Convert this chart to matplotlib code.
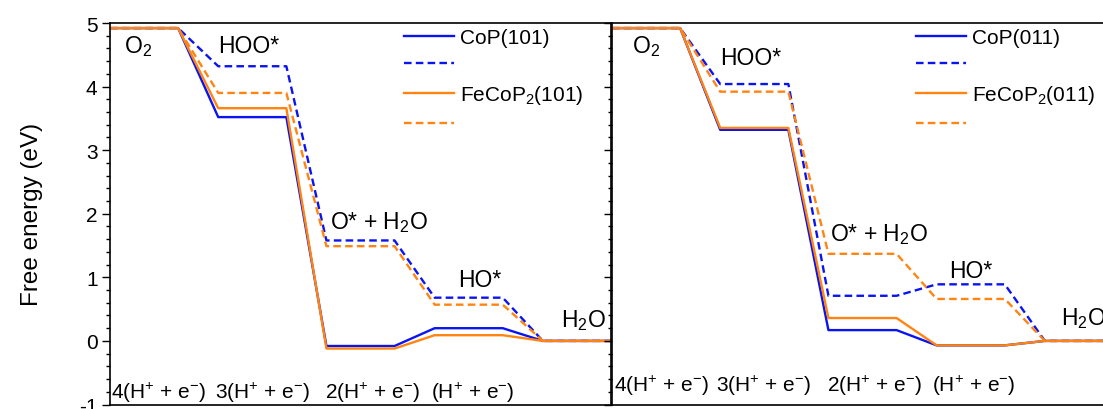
import numpy as np
import matplotlib.pyplot as plt
from matplotlib.ticker import MultipleLocator

plt.rcParams['font.family'] = ['Liberation Sans', 'DejaVu Sans']
plt.rcParams['mathtext.fontset'] = 'custom'
plt.rcParams['mathtext.rm'] = 'Liberation Sans'
plt.rcParams['mathtext.it'] = 'Liberation Sans:italic'
plt.rcParams['axes.unicode_minus'] = False

# free energy levels for the 5 steps: O2, HOO*, O*+H2O, HO*, H2O
cop101_u = [4.92, 3.52, -0.08, 0.20, 0.0]
cop101_eq = [4.92, 4.32, 1.58, 0.68, 0.0]
fecop101_u = [4.92, 3.66, -0.12, 0.09, 0.0]
fecop101_eq = [4.92, 3.90, 1.49, 0.57, 0.0]

cop011_u = [4.92, 3.32, 0.17, -0.07, 0.0]
cop011_eq = [4.92, 4.04, 0.71, 0.89, 0.0]
fecop011_u = [4.92, 3.35, 0.36, -0.07, 0.0]
fecop011_eq = [4.92, 3.92, 1.37, 0.66, 0.0]

step_labels = ['4(H$^{+}$ + e$^{-}$)', '3(H$^{+}$ + e$^{-}$)',
               '2(H$^{+}$ + e$^{-}$)', '(H$^{+}$ + e$^{-}$)']

BLUE = '#0a14f0'
ORANGE = '#ff8412'
LEVEL_W = 1.7
GAP = 1.0


def step_path(levels):
    xs, ys = [], []
    for i, v in enumerate(levels):
        x0 = i * (LEVEL_W + GAP)
        xs += [x0, x0 + LEVEL_W]
        ys += [v, v]
    return np.array(xs), np.array(ys)


def draw_panel(ax, series, names, texts, step_pos, legend_x, show_labels):
    for levels, color, ls in series:
        x, y = step_path(levels)
        if ls == '--':
            ax.plot(x, y, color=color, lw=1.7, ls=(0, (3.2, 1.8)))
        else:
            ax.plot(x, y, color=color, lw=1.7)
    ax.set_xlim(0, 4 * (LEVEL_W + GAP) + LEVEL_W)
    ax.set_ylim(-1, 5)
    ax.yaxis.set_major_locator(MultipleLocator(1))
    ax.yaxis.set_minor_locator(MultipleLocator(0.2))
    ax.tick_params(axis='y', which='major', direction='out', length=5.5, width=1,
                   labelsize=15, labelleft=show_labels)
    ax.tick_params(axis='y', which='minor', direction='out', length=3, width=1)
    ax.set_xticks([])
    for s in ax.spines.values():
        s.set_linewidth(1.2)
    for txt, x, y in texts:
        ax.text(x, y, txt, fontsize=16.5, ha='left', va='center')
    for lab, (x, y) in zip(step_labels, step_pos):
        ax.text(x, y, lab, fontsize=15, ha='left', va='center')
    ax.legend(names, loc='upper left', bbox_to_anchor=(legend_x, 0.99),
              frameon=False, fontsize=15, handlelength=2.4, handletextpad=0.3,
              labelspacing=0.42, borderpad=0.05, borderaxespad=0)


fig = plt.figure(figsize=(11.03, 4.10), dpi=100)
ax1 = fig.add_axes([110 / 1103, 4.5 / 410, 501 / 1103, 381.5 / 410])
ax2 = fig.add_axes([612 / 1103, 4.5 / 410, 501 / 1103, 381.5 / 410])

draw_panel(ax1,
           [(cop101_u, BLUE, '-'), (cop101_eq, BLUE, '--'),
            (fecop101_u, ORANGE, '-'), (fecop101_eq, ORANGE, '--')],
           ['CoP(101)', ' ', 'FeCoP$_{2}$(101)', ' '],
           [('O$_{2}$', 0.35, 4.64), ('HOO*', 2.7, 4.64), ('O* + H$_{2}$O', 5.5, 1.87),
            ('HO*', 8.68, 0.97), ('H$_{2}$O', 11.25, 0.33)],
           [(0.02, -0.8), (2.62, -0.8), (5.37, -0.8), (8.0, -0.8)],
           0.585, True)

draw_panel(ax2,
           [(cop011_u, BLUE, '-'), (cop011_eq, BLUE, '--'),
            (fecop011_u, ORANGE, '-'), (fecop011_eq, ORANGE, '--')],
           ['CoP(011)', ' ', 'FeCoP$_{2}$(011)', ' '],
           [('O$_{2}$', 0.5, 4.64), ('HOO*', 2.7, 4.45), ('O* + H$_{2}$O', 5.45, 1.69),
            ('HO*', 8.4, 1.11), ('H$_{2}$O', 11.2, 0.37)],
           [(0.05, -0.7), (2.6, -0.7), (5.37, -0.7), (7.98, -0.7)],
           0.605, False)

ax1.set_ylabel('Free energy (eV)', fontsize=17.5, labelpad=26)

fig.savefig('out.png', dpi=100)
